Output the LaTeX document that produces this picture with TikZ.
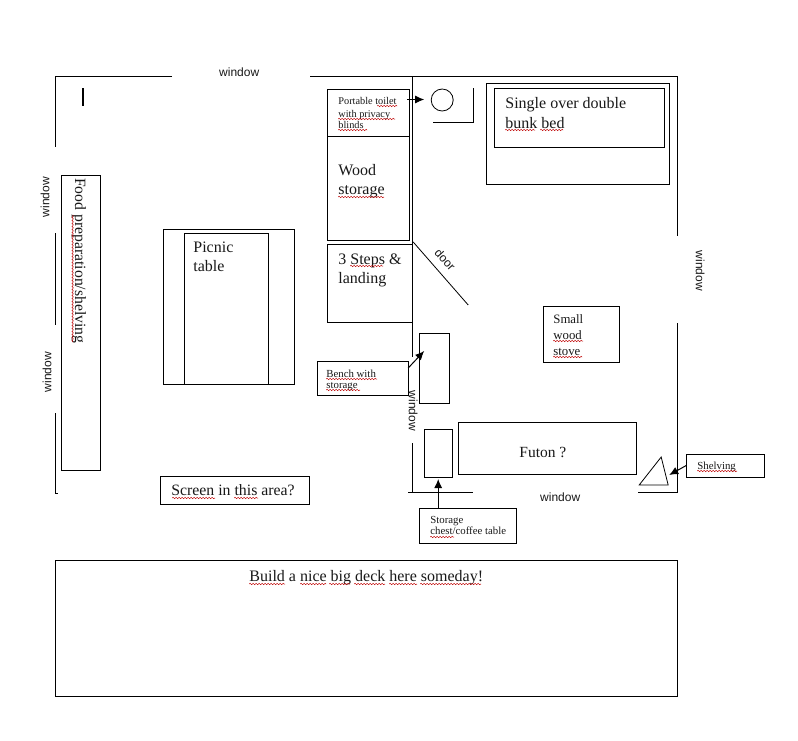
\documentclass[tikz,border=0pt]{standalone}
\usepackage{fontspec}
\setmainfont{Liberation Serif}
\newfontfamily\wsans{Liberation Sans}
\usetikzlibrary{arrows.meta,decorations.pathmorphing}
\tikzset{
  x=1pt,y=-1pt,
  box/.style={draw=black,line width=1pt,anchor=north west,inner sep=0pt,outer sep=0pt},
  wall/.style={draw=black,line width=1pt},
  txt/.style={anchor=base west,inner sep=0pt,align=left,text=black!90},
  small/.style={txt,font=\fontsize{10.8}{12}\selectfont},
  tiny/.style={txt,font=\fontsize{10.3}{12}\selectfont},
  mid/.style={txt,font=\fontsize{12.8}{16}\selectfont},
  big/.style={txt,font=\fontsize{16}{19.5}\selectfont},
  win/.style={inner sep=0pt,text=black!90,font=\wsans\fontsize{12}{14}\selectfont},
  conn/.style={draw=black,line width=1pt,-{Latex[length=9pt,width=8pt]}},
  squig/.style={draw=red!75!black,line width=.5pt,decorate,decoration={snake,amplitude=.7pt,segment length=3pt}},
}
\newcommand{\bx}[5]{\node[box,minimum width=#4,minimum height=#5] (#1) at (#2,#3) {};}
\begin{document}
\begin{tikzpicture}
\useasboundingbox (-0.2,0) rectangle (797.8,740);
\fill[white] (-0.2,0) rectangle (797.8,740);
% walls
\draw[wall] (172,76) -- (55,76) -- (55,147);
\draw[wall] (310,76) -- (677,76) -- (677,236);
\draw[wall] (55,233) -- (55,325);
\draw[wall] (55,413) -- (55,493) -- (58,493);
\draw[wall] (677,323) -- (677,492) -- (638,492);
\draw[wall] (412.5,76) -- (412.5,357);
\draw[wall] (412.5,443) -- (412.5,492);
\draw[wall] (408,492) -- (473,492);
\draw[line width=.8pt] (413,242) -- (468,305);
\draw[line width=2pt] (83,88) -- (83,106);
\draw[wall] (433,122) -- (473,122) -- (473,88);
% boxes
\bx{toilet}{327}{89}{82pt}{47pt}
\bx{wood}{327}{136}{82pt}{104pt}
\bx{steps}{327}{244}{85pt}{78pt}
\node[draw=black,line width=.8pt,circle,minimum size=22pt,inner sep=0pt] (seat) at (442,100) {};
\bx{bunkout}{486}{83}{183pt}{101pt}
\bx{bunkin}{494}{88}{170pt}{59pt}
\bx{food}{61}{175}{39pt}{295pt}
\bx{picout}{163}{229}{131pt}{155pt}
\bx{picin}{184}{233}{84pt}{151pt}
\bx{screen}{160}{476}{149pt}{28pt}
\bx{deck}{55}{560}{622pt}{136pt}
\bx{stove}{543}{306}{76pt}{56pt}
\bx{bench}{419}{333}{30pt}{70pt}
\bx{benchlbl}{317}{361}{91pt}{34pt}
\bx{chest}{424}{429}{28pt}{48pt}
\bx{chestlbl}{419}{508}{97pt}{35pt}
\bx{futon}{458}{422}{178pt}{52pt}
\bx{shelflbl}{686}{454}{78pt}{23pt}
\coordinate (a) at (639,485); \coordinate (b) at (661,457); \coordinate (c) at (668,485);
\draw[line width=.8pt] (a) -- (b) -- (c) -- cycle;
% connectors
\coordinate (toiletfrom) at (407,99.5);
\coordinate (toiletto) at (424,99.5);
\draw[conn] (toiletfrom) -- (toiletto);
\coordinate (benchto) at (424,351);
\draw[conn] (benchlbl.north east) ++(0,7) -- (benchto);
\coordinate (chestfrom) at (438,508);
\coordinate (chestto) at (438,479);
\draw[conn] (chestfrom) -- (chestto);
\coordinate (shelfto) at (669,475);
\draw[conn] (shelflbl.west) -- (shelfto);
% texts
\node[tiny] (t1) at (338,104) {Portable toilet};
\node[tiny] (t2) at (338,117) {with privacy};
\node[tiny] (t3) at (338,128.5) {blinds};
\node[big] (t4) at (338,175) {Wood};
\node[big] (t5) at (338,194.5) {storage};
\node[big] (t6) at (338,264) {3 Steps \&};
\node[big] (t7) at (338,283.5) {landing};
\node[big] (t8) at (193,252) {Picnic};
\node[big] (t9) at (193,271) {table};
\node[txt,font=\fontsize{15.7}{19}\selectfont,rotate=-90] (t10) at (75,178) {Food preparation/shelving};
\node[big] (t11) at (505,108) {Single over double};
\node[big] (t12) at (505,128) {bunk bed};
\node[mid] (t13) at (553,323) {Small};
\node[mid] (t14) at (553,339) {wood};
\node[mid] (t15) at (553,355) {stove};
\node[small] (t16) at (326,377) {Bench with};
\node[small] (t17) at (326,388.5) {storage};
\node[small] (t18) at (430,523) {Storage};
\node[small] (t19) at (430,534.5) {chest/coffee table};
\node[small] (t20) at (697,469) {Shelving};
\node[txt,font=\fontsize{15.5}{17}\selectfont] (t21) at (519,457) {Futon ?};
\node[txt,font=\fontsize{15.8}{17}\selectfont] (t22) at (171,495) {Screen in this area?};
\node[big] (t23) at (249,581) {Build a nice big deck here someday!};
\node[win] (w1) at (239,72) {window};
\node[win,rotate=90] (w2) at (45,197) {window};
\node[win,rotate=90] (w3) at (47,372) {window};
\node[win,rotate=-90] (w4) at (700,271) {window};
\node[win,rotate=-90] (w5) at (413,411) {window};
\node[win] (w6) at (560,497) {window};
\node[win,rotate=-48] (w7) at (445,260) {door};
% spelling squiggles
\draw[squig] (377,106) -- (397,106);
\draw[squig] (338,119) -- (395,119);
\draw[squig] (338,130) -- (367,130);
\draw[squig] (338,197) -- (384,197);
\draw[squig] (350,266) -- (383,266);
\draw[squig] (505,130) -- (535,130);
\draw[squig] (540,130) -- (563,130);
\draw[squig] (553,341) -- (583,341);
\draw[squig] (553,357) -- (582,357);
\draw[squig] (326,379) -- (377,379);
\draw[squig] (326,390) -- (360,390);
\draw[squig] (430,537) -- (454,537);
\draw[squig] (697,471) -- (737,471);
\draw[squig] (172,498) -- (215,498);
\draw[squig] (234,498) -- (258,498);
\draw[squig] (249,584) -- (285,584);
\draw[squig] (300,584) -- (326,584);
\draw[squig] (329,584) -- (350,584);
\draw[squig] (354,584) -- (385,584);
\draw[squig] (389,584) -- (417,584);
\draw[squig] (420,584) -- (481,584);
\draw[squig] (72.5,215) -- (72.5,342);
\end{tikzpicture}
\end{document}
